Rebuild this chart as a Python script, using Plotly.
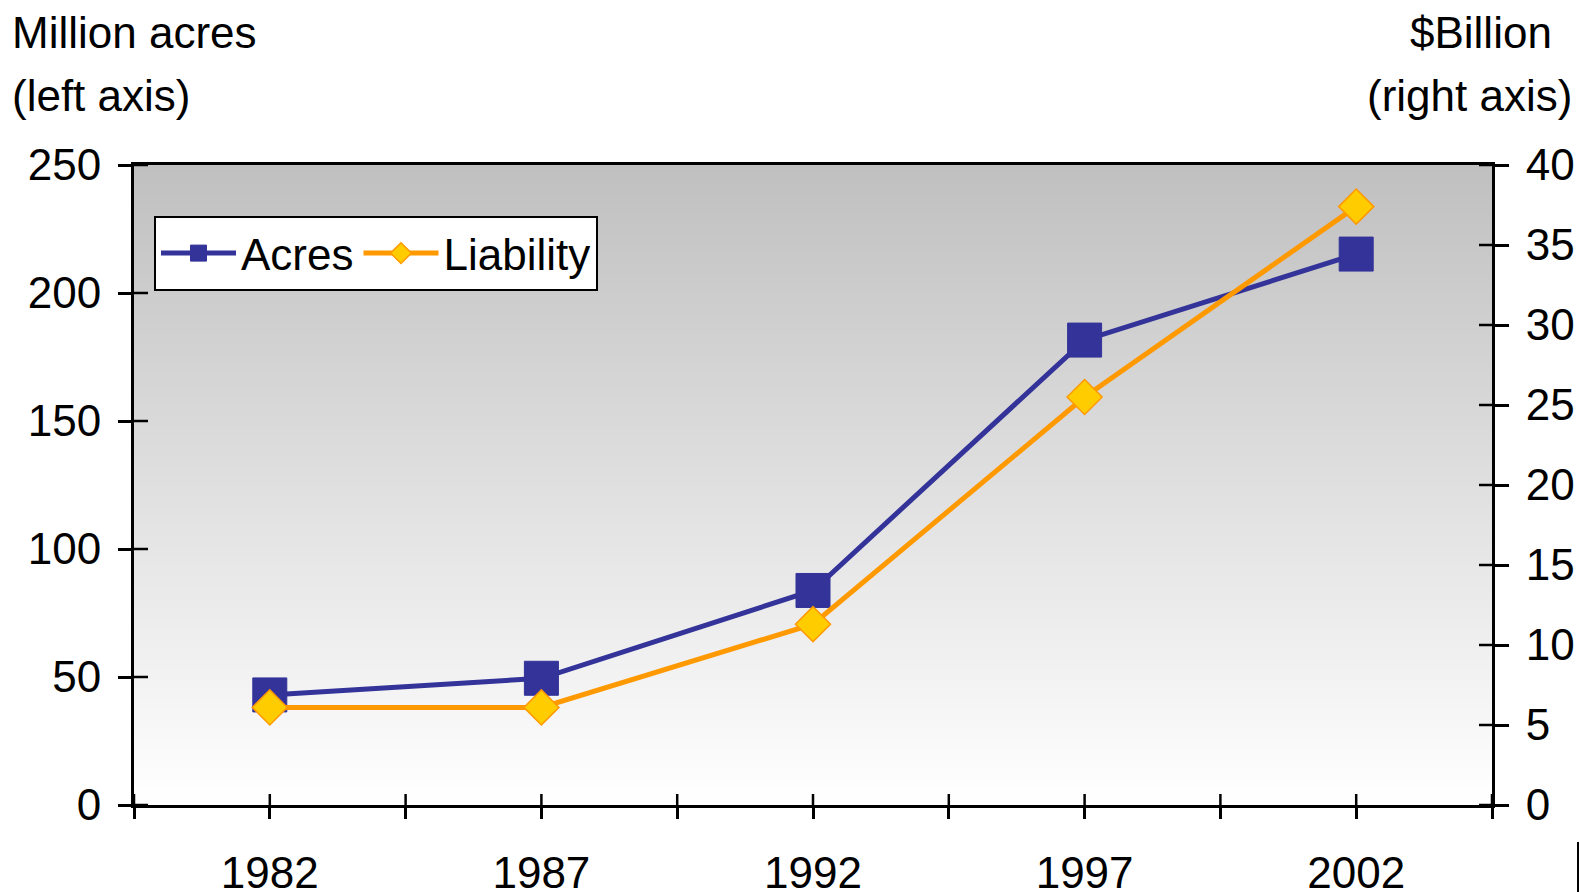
import base64
import struct
import zlib

import numpy as np
import plotly.graph_objects as go

# ---- data ----
years = ["1982", "1987", "1992", "1997", "2002"]
acres = [43, 49.5, 83.8, 181.6, 215.2]          # million acres (left axis)
liability = [6.1, 6.1, 11.3, 25.5, 37.4]       # $ billion (right axis)

left_range = [0, 250]
right_range = [0, 40]
left_ticks = list(range(0, 251, 50))
right_ticks = list(range(0, 41, 5))

W, H = 1580, 892
ML, MR, MT, MB = 134, 88, 165, 87
PW, PH = W - ML - MR, H - MT - MB

FONT = "Liberation Sans, Arial, sans-serif"
FS = 44

xpos = np.arange(len(years))
xr = [-0.5, len(years) - 0.5]
xtickvals = np.arange(xr[0], xr[1] + 0.01, 0.5)
xticktext = [years[int(v)] if float(v).is_integer() else "" for v in xtickvals]


def px_x(p):
    return (p - ML) / PW


def px_y(p):
    return (H - MB - p) / PH


def gradient_png(top_gray=192, bottom_gray=255, rows=256):
    """1-pixel-wide vertical grey gradient as a PNG data URI (plot background)."""
    vals = [round(top_gray + (bottom_gray - top_gray) * i / (rows - 1)) for i in range(rows)]
    raw = b"".join(b"\x00" + bytes([v]) for v in vals)

    def chunk(tag, data):
        c = struct.pack(">I", len(data)) + tag + data
        return c + struct.pack(">I", zlib.crc32(tag + data) & 0xFFFFFFFF)

    png = (b"\x89PNG\r\n\x1a\n"
           + chunk(b"IHDR", struct.pack(">IIBBBBB", 1, rows, 8, 0, 0, 0, 0))
           + chunk(b"IDAT", zlib.compress(raw, 9))
           + chunk(b"IEND", b""))
    return "data:image/png;base64," + base64.b64encode(png).decode()


fig = go.Figure()

fig.add_trace(go.Scatter(
    x=xpos, y=acres, name="Acres", mode="lines+markers",
    line=dict(color="#333399", width=5),
    marker=dict(symbol="square", size=34, color="#333399",
                line=dict(color="#333399", width=1)),
    xaxis="x", yaxis="y"))

fig.add_trace(go.Scatter(
    x=xpos, y=liability, name="Liability", mode="lines+markers",
    line=dict(color="#ff9900", width=5),
    marker=dict(symbol="diamond", size=27, color="#ffcc00",
                line=dict(color="#ff9900", width=1.5)),
    xaxis="x", yaxis="y2"))

tickfont = dict(family=FONT, size=FS, color="black")

fig.update_layout(
    width=W, height=H,
    margin=dict(l=ML, r=MR, t=MT, b=MB, pad=0, autoexpand=False),
    paper_bgcolor="white", plot_bgcolor="rgba(0,0,0,0)",
    font=dict(family=FONT, size=FS, color="black"),
    showlegend=True,
    legend=dict(orientation="h", x=px_x(154), y=px_y(216), xanchor="left", yanchor="top",
                bgcolor="white", bordercolor="black", borderwidth=2,
                font=dict(family=FONT, size=FS, color="black"),
                itemwidth=75, itemsizing="trace"),
    xaxis=dict(range=xr, tickmode="array", tickvals=xtickvals, ticktext=xticktext,
               ticks="outside", ticklen=11, tickwidth=2.5, tickcolor="black",
               showline=True, linecolor="black", linewidth=3, mirror=True,
               showgrid=False, zeroline=False, tickfont=tickfont,
               ticklabelstandoff=16, automargin=False, fixedrange=True),
    yaxis=dict(range=left_range, tickmode="array", tickvals=left_ticks,
               ticks="outside", ticklen=13, tickwidth=2.5, tickcolor="black",
               showline=True, linecolor="black", linewidth=3,
               showgrid=False, zeroline=False, tickfont=tickfont,
               ticklabelstandoff=8, automargin=False, fixedrange=True),
    yaxis2=dict(range=right_range, overlaying="y", side="right", anchor="x",
                tickmode="array", tickvals=right_ticks,
                ticks="outside", ticklen=14, tickwidth=2.5, tickcolor="black",
                showline=True, linecolor="black", linewidth=3,
                showgrid=False, zeroline=False, tickfont=tickfont,
                ticklabelstandoff=8, automargin=False, fixedrange=True),
    images=[dict(source=gradient_png(), xref="paper", yref="paper", x=0, y=1,
                 sizex=1, sizey=1, xanchor="left", yanchor="top",
                 sizing="stretch", layer="below")],
)

# inner halves of the crossing tick marks, anchored at the axes' tick values
tick_line = dict(color="black", width=2.5)
for v in xtickvals:
    fig.add_shape(type="line", xref="x", yref="y", ysizemode="pixel",
                  yanchor=left_range[0], x0=v, x1=v, y0=0, y1=11,
                  line=tick_line, layer="above")
for v in left_ticks:
    fig.add_shape(type="line", xref="x", yref="y", xsizemode="pixel",
                  xanchor=xr[0], x0=0, x1=14, y0=v, y1=v,
                  line=tick_line, layer="above")
for v in right_ticks:
    fig.add_shape(type="line", xref="x", yref="y2", xsizemode="pixel",
                  xanchor=xr[1], x0=-13, x1=0, y0=v, y1=v,
                  line=tick_line, layer="above")

ann = dict(xref="paper", yref="paper", showarrow=False,
           font=dict(family=FONT, size=FS, color="black"), yanchor="middle")
fig.add_annotation(text="Million acres", x=px_x(10), y=px_y(33), xanchor="left", **ann)
fig.add_annotation(text="(left axis)", x=px_x(10), y=px_y(95), xanchor="left", **ann)
fig.add_annotation(text="$Billion", x=px_x(1554), y=px_y(33), xanchor="right", **ann)
fig.add_annotation(text="(right axis)", x=px_x(1574), y=px_y(95), xanchor="right", **ann)

# small frame remnant at bottom right
fig.add_shape(type="line", xref="paper", yref="paper",
              x0=px_x(1578), x1=px_x(1578), y0=px_y(842), y1=px_y(892),
              line=dict(color="black", width=2))

fig.write_html("out.html")
